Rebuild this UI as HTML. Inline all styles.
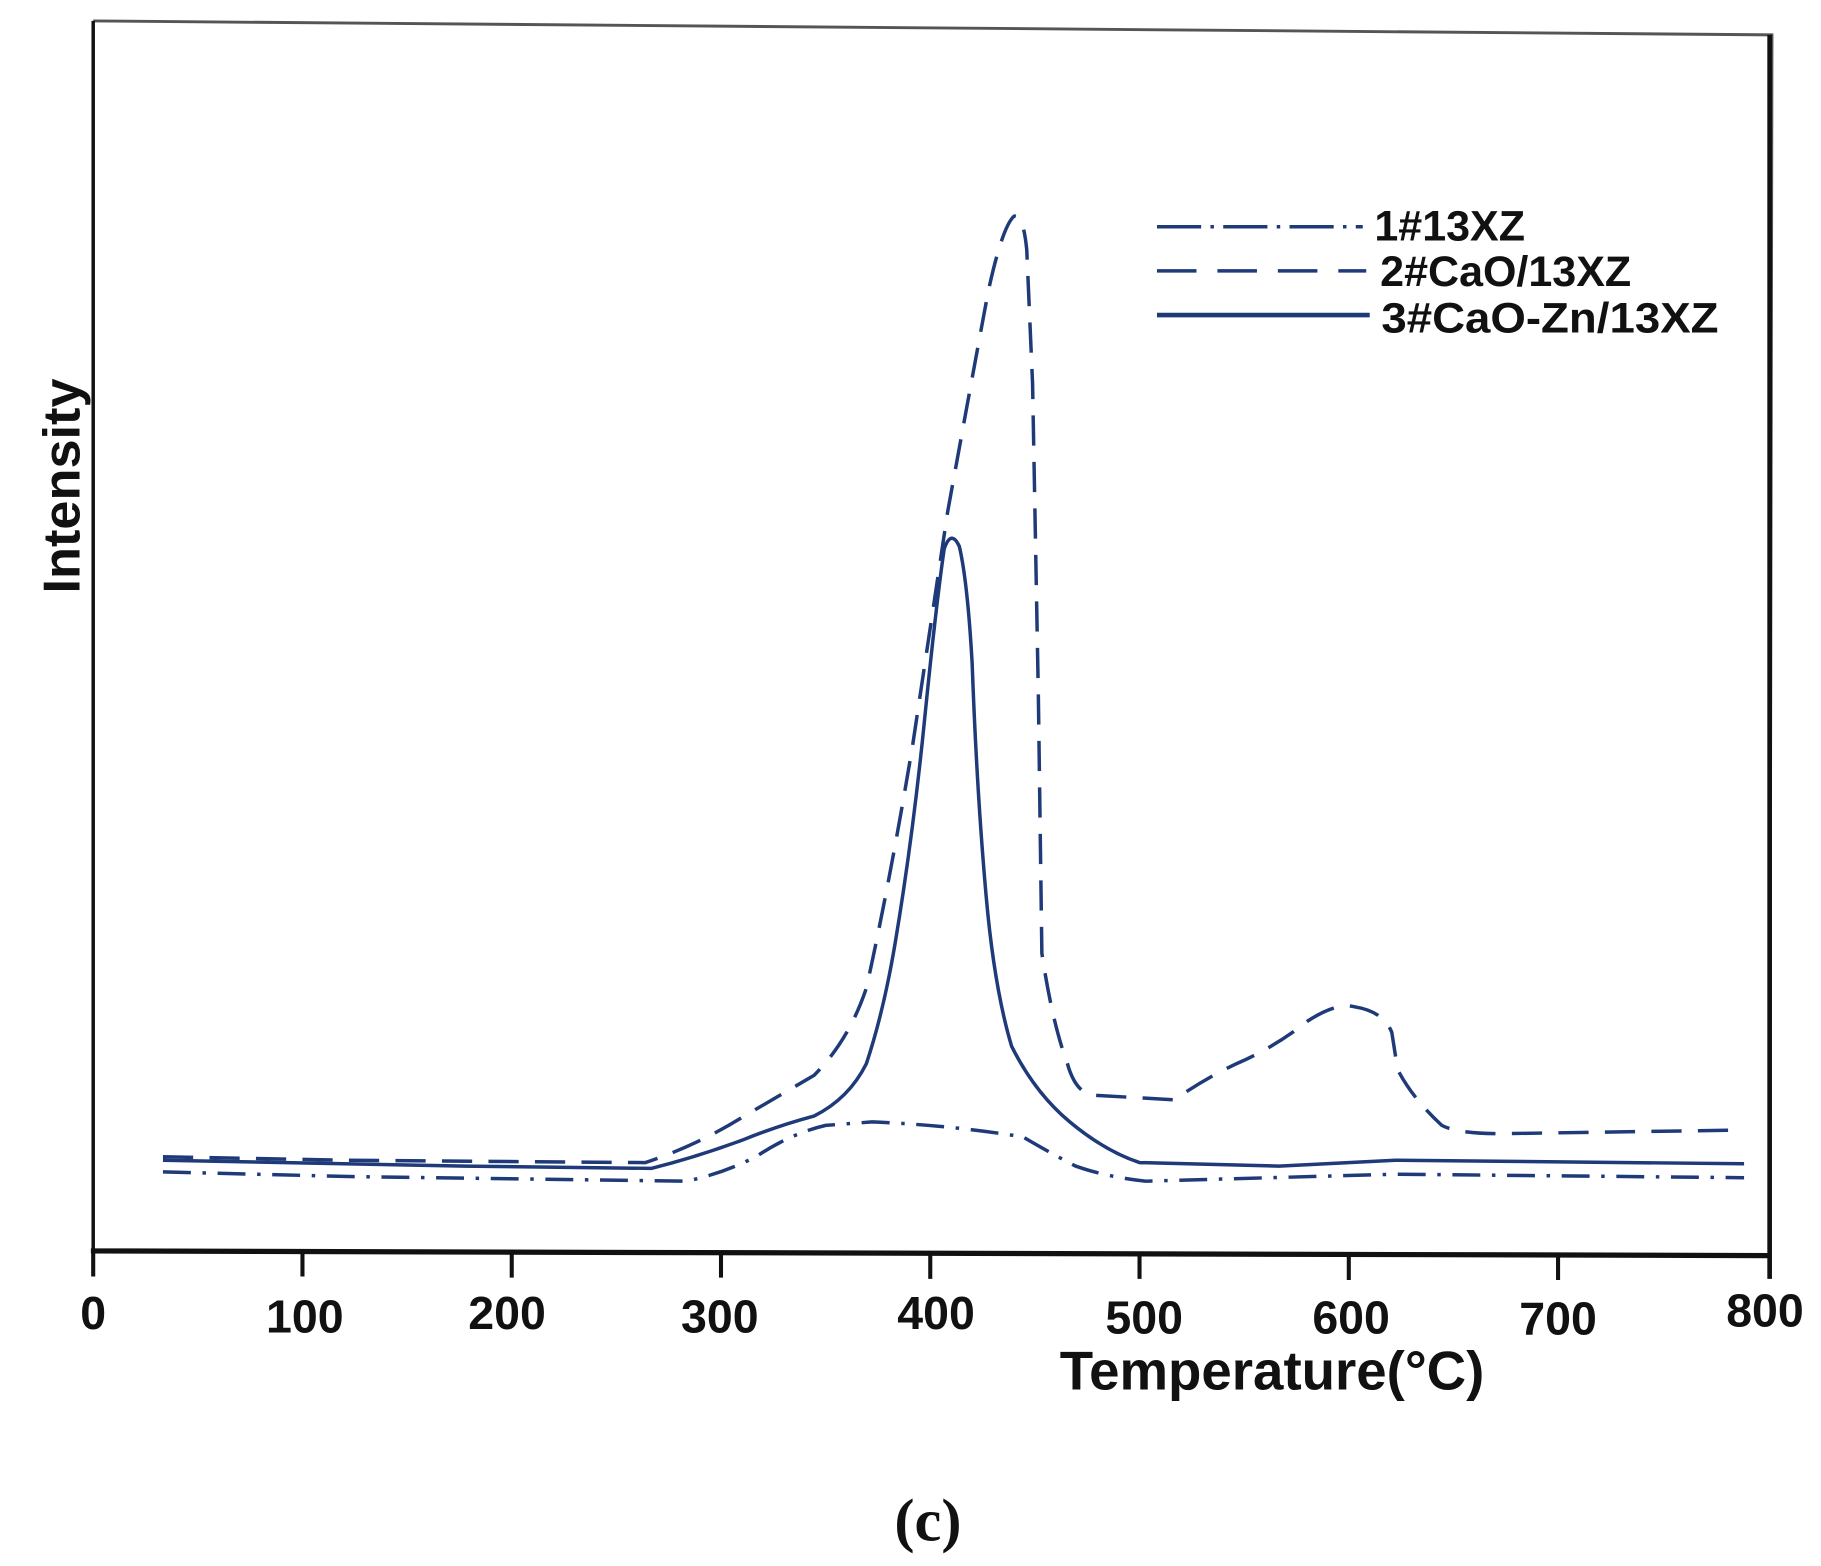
<!DOCTYPE html>
<html><head><style>html,body{margin:0;padding:0;background:#fff;}svg{display:block}</style></head>
<body>
<svg width="1821" height="1566" viewBox="0 0 1566 1347" xmlns="http://www.w3.org/2000/svg">
<rect width="1566" height="1347" fill="#fff"/>
<g fill="none" stroke="#111" >
<path d="M80,18 L1524,30 L1522,1080" stroke-width="2.5" stroke="#555"/>
<path d="M80,18 L80,1076" stroke-width="3"/>
<path d="M78,1076 L1522,1080" stroke-width="4.5"/>
<path d="M1522,30 L1522,1100" stroke-width="4"/>
<g stroke-width="3.5">
<path d="M80,1076V1098M260,1076V1098M440,1077V1099M620,1077V1099M800,1078V1100M980,1078V1100M1160,1079V1101M1340,1079V1101"/>
</g>
</g>
<g font-family="Liberation Sans, Arial, sans-serif" font-weight="bold" font-size="40" fill="#111" text-anchor="middle">
<text x="80" y="1143">0</text><text x="262" y="1146">100</text><text x="436" y="1143">200</text><text x="619" y="1146">300</text><text x="805" y="1143">400</text><text x="984" y="1147">500</text><text x="1162" y="1147">600</text><text x="1340" y="1148">700</text><text x="1518" y="1141">800</text>
<text x="1094" y="1195" font-size="47">Temperature(°C)</text>
<text transform="translate(68,418) rotate(-90)" font-size="45">Intensity</text>
</g>
<text x="798" y="1325" font-family="Liberation Serif, serif" font-weight="bold" font-size="52" text-anchor="middle" fill="#111">(c)</text>
<g fill="none" stroke="#1f3a78" stroke-width="3" stroke-linejoin="round">
<path stroke-dasharray="26,14" d="M140,995 L300,998 L555,1000 Q600,985 640,960 L700,925 Q730,895 745,850 Q765,760 785,640 Q800,540 815,440 Q835,330 850,250 Q862,195 872,186 Q880,184 883,215 L888,330 L893,600 L896,820 Q905,880 918,915 Q925,940 940,942 L1010,946 Q1040,925 1070,912 Q1100,898 1125,878 Q1150,862 1165,866 Q1190,870 1197,888 L1202,920 Q1215,945 1240,968 Q1255,976 1300,975 L1500,972"/>
<path d="M140,998 L400,1003 L560,1005 Q600,995 640,980 Q670,968 700,960 Q730,945 745,915 Q760,870 770,810 Q785,720 795,620 Q805,520 812,472 Q818,455 825,470 Q832,500 836,570 Q840,680 848,770 Q855,850 870,900 Q890,940 920,965 Q950,990 980,1000 L1100,1003 L1200,998 L1500,1001"/>
<path stroke-dasharray="24,10,3,10" d="M140,1008 L300,1012 L590,1016 Q620,1010 650,995 Q680,975 710,968 L750,965 Q820,968 880,978 Q900,990 925,1003 Q950,1012 985,1016 L1200,1010 L1500,1013"/>
</g>
<g stroke="#1f3a78" stroke-width="3">
<path d="M995,195 H1172" stroke-dasharray="38,8,3,8"/>
<path d="M995,233 H1175" stroke-dasharray="34,18"/>
<path d="M995,271 H1178" stroke-width="4"/>
</g>
<g font-family="Liberation Sans, Arial, sans-serif" font-weight="bold" font-size="37" fill="#111">
<text x="1182" y="207">1#13XZ</text>
<text x="1187" y="246">2#CaO/13XZ</text>
<text x="1188" y="286" textLength="290" lengthAdjust="spacingAndGlyphs">3#CaO-Zn/13XZ</text>
</g>
</svg>
</body></html>
